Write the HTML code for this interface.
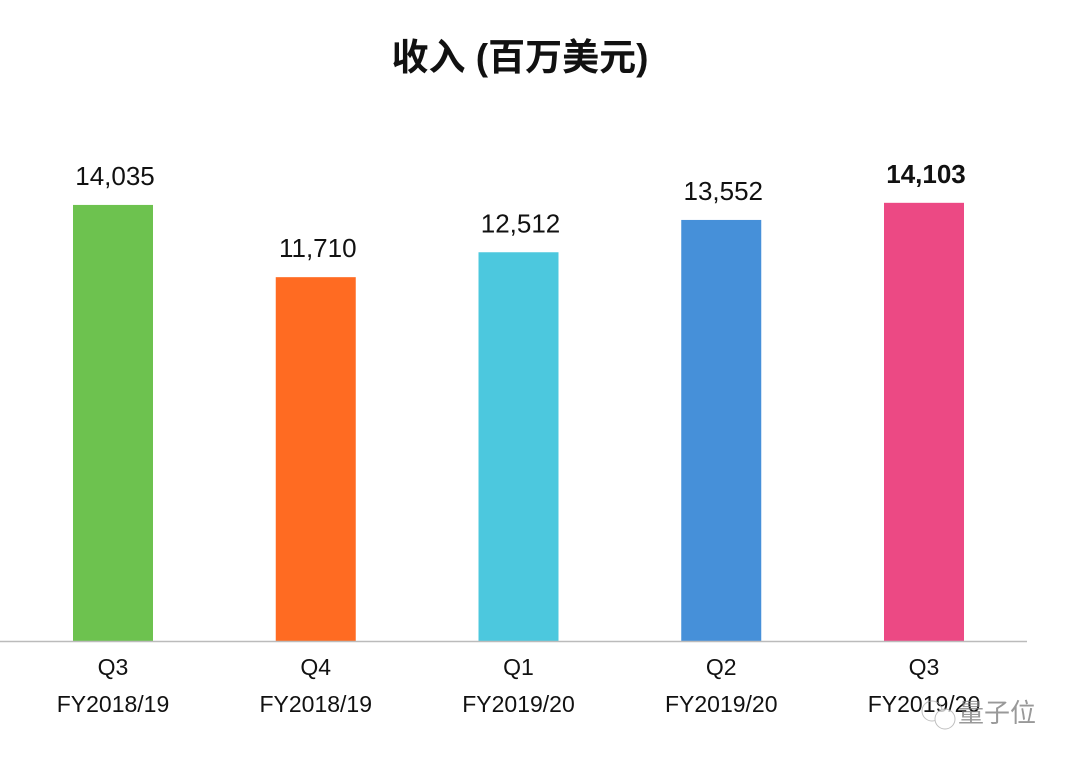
<!DOCTYPE html>
<html><head><meta charset="utf-8"><style>
body{margin:0;background:#fff;width:1080px;height:759px;overflow:hidden;font-family:"Liberation Sans","Noto Sans CJK SC",sans-serif}
</style></head><body>
<svg width="1080" height="759">
<text x="520" y="70" text-anchor="middle" font-size="37" font-weight="bold" fill="#111" font-family="Liberation Sans,Noto Sans CJK SC,sans-serif">收入 (百万美元)</text>
<g id="bars"></g>
<line x1="0" y1="641.5" x2="1027" y2="641.5" stroke="#bbb" stroke-width="1.5"/>
<g opacity="0.75">
<circle cx="932" cy="711" r="10" fill="none" stroke="#aaa"/>
<circle cx="945" cy="719" r="10" fill="#fff" stroke="#aaa"/>
<text x="958" y="722" font-size="26" fill="#777" font-family="Noto Sans CJK SC,sans-serif">量子位</text>
</g>
</svg>
<script>
const categories=["Q3|FY2018/19","Q4|FY2018/19","Q1|FY2019/20","Q2|FY2019/20","Q3|FY2019/20"];
const values=[14035,11710,12512,13552,14103];
const valueLabels=["14,035","11,710","12,512","13,552","14,103"];
const colors=["#6dc24f","#ff6b22","#4cc8de","#4690d9","#ec4984"];
const ns="http://www.w3.org/2000/svg";
const g=document.getElementById("bars");
const base=641, k=0.03107;
const y=v=>base-v*k;
const x=i=>113+i*202.75;
values.forEach((v,i)=>{
 const r=document.createElementNS(ns,"rect");
 r.setAttribute("x",x(i)-40);r.setAttribute("y",y(v));r.setAttribute("width",80);r.setAttribute("height",base-y(v));r.setAttribute("fill",colors[i]);
 
 
 g.appendChild(r);
 const t=document.createElementNS(ns,"text");
 t.setAttribute("x",x(i)+2);t.setAttribute("y",y(v)-20);t.setAttribute("text-anchor","middle");t.setAttribute("font-size","26");t.setAttribute("fill","#111");
 if(i===values.length-1)t.setAttribute("font-weight","bold");
 t.textContent=valueLabels[i];
 
 
 g.appendChild(t);
 categories[i].split("|").forEach((s,j)=>{
  const c=document.createElementNS(ns,"text");
  c.setAttribute("x",x(i));c.setAttribute("y",675+j*37);c.setAttribute("text-anchor","middle");c.setAttribute("font-size","23");c.setAttribute("fill","#111");
  c.textContent=s;
  
  
  g.appendChild(c);
 });
});
</script>
</body></html>
